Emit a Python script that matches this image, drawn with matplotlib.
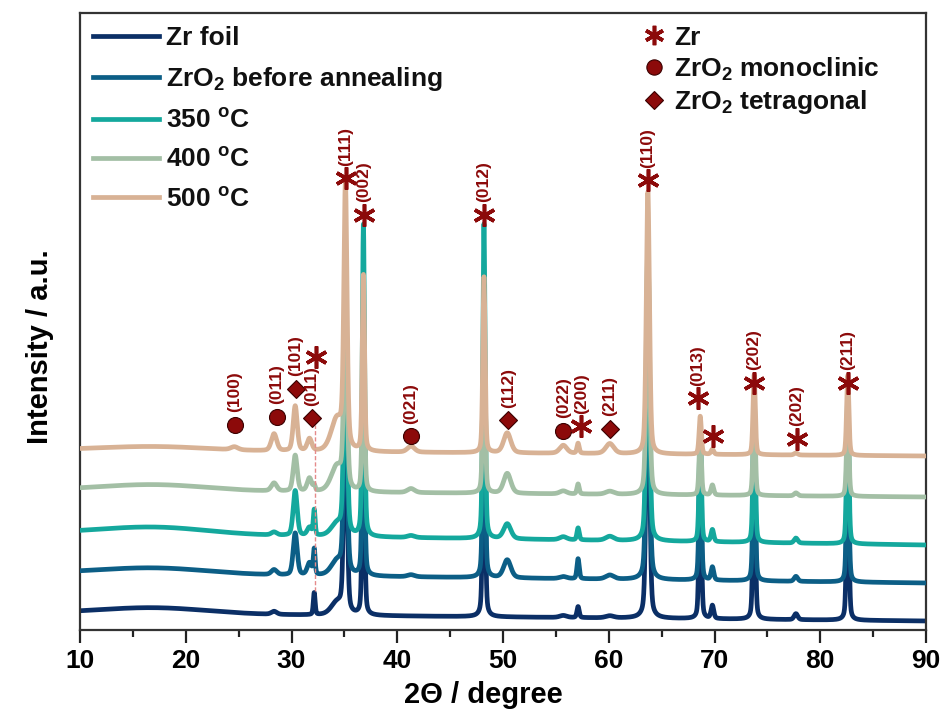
import numpy as np
import matplotlib
matplotlib.use('Agg')
import matplotlib.pyplot as plt
from matplotlib.lines import Line2D

plt.rcParams['font.family'] = ['Liberation Sans', 'DejaVu Sans']
plt.rcParams['font.weight'] = 'bold'
plt.rcParams['mathtext.fontset'] = 'custom'
plt.rcParams['mathtext.rm'] = 'Liberation Sans:bold'
plt.rcParams['mathtext.it'] = 'Liberation Sans:bold'
plt.rcParams['mathtext.bf'] = 'Liberation Sans:bold'
plt.rcParams['mathtext.default'] = 'rm'

# reflections (2theta, fwhm) shared by all patterns
peak_pos = [24.6, 28.35, 30.35, 31.7, 32.15, 34.3, 35.1, 36.8, 41.3, 48.2,
            50.4, 55.7, 57.1, 60.1, 63.7, 68.65, 69.8, 73.75, 77.7, 82.6]
peak_fwhm = [0.8, 0.6, 0.45, 0.5, 0.2, 1.3, 0.35, 0.25, 0.8, 0.25,
             0.8, 0.8, 0.25, 0.9, 0.35, 0.25, 0.3, 0.25, 0.4, 0.25]

labels = ['Zr foil', 'ZrO$_2$ before annealing', '350 $^{o}$C', '400 $^{o}$C', '500 $^{o}$C']
colors = ['#0b2f66', '#0c5e86', '#14a89d', '#a3bfa5', '#d8b295']

# peak heights for each pattern (a.u.)
h_foil = [0, 3, 0, 0, 22, 12, 230, 230, 0, 280, 0, 2, 11, 2, 320, 170, 13, 190, 6, 190]
h_before = [0, 5, 42, 12, 25, 14, 240, 240, 2, 270, 18, 2, 20, 4, 320, 150, 13, 170, 5, 170]
h_350 = [0, 3, 45, 8, 25, 12, 235, 312, 2, 315, 15, 3, 12, 4, 300, 110, 12, 150, 5, 150]
h_400 = [0, 8, 36, 13, 5, 25, 200, 180, 4, 190, 20, 3, 10, 3, 250, 60, 10, 90, 3, 90]
h_500 = [3, 17, 45, 12, 0, 32, 258, 176, 6, 176, 20, 8, 10, 10, 262, 38, 5, 80, 2, 80]
heights = [h_foil, h_before, h_350, h_400, h_500]

# background: level at 10 deg, level at 90 deg, amorphous hump near 17 deg
bg_left = [17, 57, 97, 140, 180]
bg_right = [9, 47, 85, 133, 174]
bg_hump = [6, 6, 7, 6, 4]

# phase markers
ann_pos = [24.65, 28.6, 30.4, 31.9, 32.3, 35.15, 36.85, 41.3, 48.2, 50.5,
           55.7, 57.4, 60.1, 63.7, 68.4, 69.85, 73.7, 77.8, 82.6]
ann_kind = ['o', 'o', 'D', 'D', '*', '*', '*', 'o', '*', 'D',
            'o', '*', 'D', '*', '*', '*', '*', '*', '*']
ann_hkl = ['(100)', '(011)', '(101)', '(011)', '', '(111)', '(002)', '(021)', '(012)', '(112)',
           '(022)', '(200)', '(211)', '(110)', '(013)', '', '(202)', '(202)', '(211)']
ann_y = [205, 213, 241, 212, 273, 452, 415, 194, 415, 210,
         199, 204, 201, 450, 232, 194, 247, 191, 247]

ref_x = 32.2
ref_y = [39, 205]

dark_red = '#8c0a0a'
star = (6, 2, 0)

tt = np.linspace(10, 90, 8000)


def pattern(h, left, right, hump):
    y = left + (right - left) * (tt - 10) / 80 + hump * np.exp(-0.5 * ((tt - 17) / 5) ** 2)
    for p, w, a in zip(peak_pos, peak_fwhm, h):
        if a == 0:
            continue
        g = np.exp(-4 * np.log(2) * ((tt - p) / w) ** 2)
        l = 1 / (1 + 4 * ((tt - p) / w) ** 2)
        y = y + a * (0.65 * g + 0.35 * l)
    return y


fig = plt.figure(figsize=(9.45, 7.13), dpi=100)
ax = fig.add_axes([80 / 945, 1 - 630 / 713, 846 / 945, 617 / 713])

lines = []
for i in range(5):
    ln, = ax.plot(tt, pattern(heights[i], bg_left[i], bg_right[i], bg_hump[i]),
                  color=colors[i], lw=3.4, label=labels[i], zorder=2 + i, solid_joinstyle='round')
    lines.append(ln)

ax.plot([ref_x, ref_x], ref_y, color='#e58a8a', lw=1.0, ls=(0, (3, 1.5)), zorder=10)

for p, k, hkl, yy in zip(ann_pos, ann_kind, ann_hkl, ann_y):
    if k == '*':
        ax.plot(p, yy, marker=star, ms=16, mew=2.6, color=dark_red, zorder=12)
    elif k == 'o':
        ax.plot(p, yy, marker='o', ms=11.5, mfc=dark_red, mec='#3a0000', mew=0.8, zorder=12)
    else:
        ax.plot(p, yy, marker='D', ms=9, mfc=dark_red, mec='#3a0000', mew=0.8, zorder=12)
    if hkl:
        ax.annotate(hkl, (p, yy), xytext=(0, 9), textcoords='offset points',
                    rotation=90, ha='center', va='bottom', fontsize=12.5,
                    color=dark_red, zorder=12)

ax.set_xlim(10, 90)
ax.set_ylim(0, 617)
ax.set_xticks(np.arange(10, 91, 10))
ax.set_xticks(np.arange(15, 90, 10), minor=True)
ax.set_yticks([])
ax.tick_params(axis='x', which='major', direction='out', length=9, width=1.6,
               labelsize=19, pad=5, color='#222222')
ax.tick_params(axis='x', which='minor', direction='out', length=5, width=1.6, color='#222222')
for s in ax.spines.values():
    s.set_linewidth(1.6)
    s.set_color('#333333')

fig.text(483 / 945, 1 - 695 / 713, '2\u0398 / degree', ha='center', va='center', fontsize=21)
fig.text(40 / 945, 1 - 347 / 713, 'Intensity / a.u.', ha='center', va='center',
         rotation=90, fontsize=21)

leg1 = ax.legend(handles=lines, loc='upper left', bbox_to_anchor=(0, 1), frameon=False,
                 fontsize=19, handlelength=2.5, handletextpad=0.25, labelspacing=0.58,
                 borderaxespad=0.3, borderpad=0.2)
for t in leg1.get_texts():
    t.set_color('#111111')
ax.add_artist(leg1)

phase_handles = [
    Line2D([], [], ls='none', marker=star, ms=14, mew=2.6, color=dark_red),
    Line2D([], [], ls='none', marker='o', ms=11, mfc=dark_red, mec='#3a0000', mew=0.8),
    Line2D([], [], ls='none', marker='D', ms=9, mfc=dark_red, mec='#3a0000', mew=0.8),
]
phase_labels = ['Zr', 'ZrO$_2$ monoclinic', 'ZrO$_2$ tetragonal']
leg2 = ax.legend(handles=phase_handles, labels=phase_labels, loc='upper left',
                 bbox_to_anchor=(0.663, 0.984), frameon=False, fontsize=19,
                 handlelength=0.8, handletextpad=0.35, labelspacing=0.22,
                 borderaxespad=0.0, borderpad=0.1)
for t in leg2.get_texts():
    t.set_color('#111111')

fig.savefig('out.png', dpi=100)
